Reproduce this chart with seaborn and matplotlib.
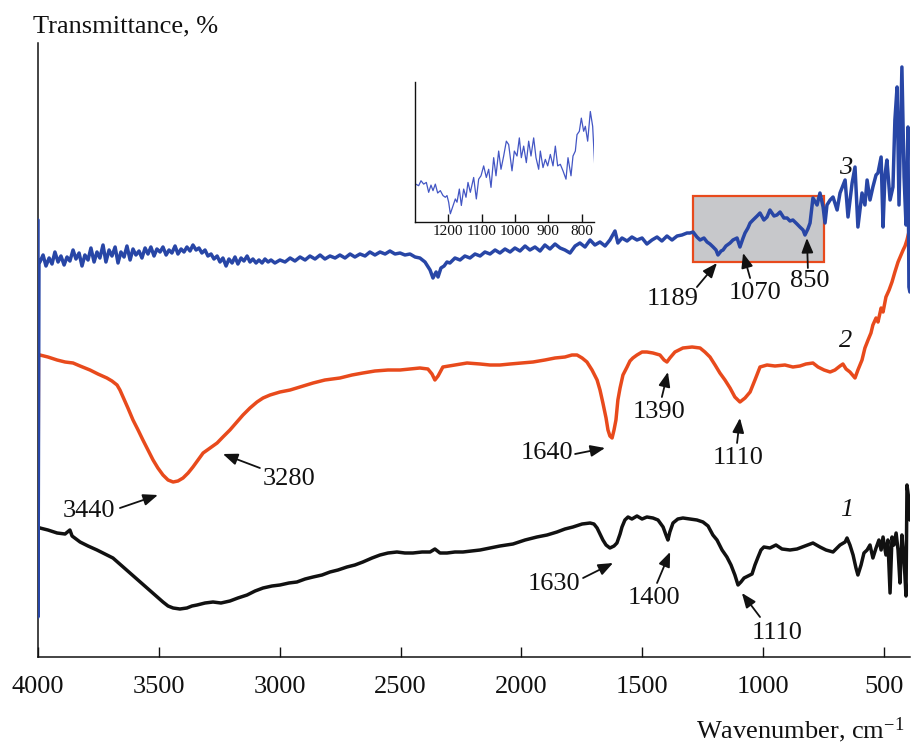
import matplotlib
matplotlib.use("Agg")
import matplotlib.pyplot as plt
import seaborn as sns
from matplotlib.patches import Rectangle

sns.set_style("white")
plt.rcParams['font.family'] = ['Liberation Serif', 'DejaVu Serif']
plt.rcParams['mathtext.fontset'] = 'custom'
plt.rcParams['mathtext.rm'] = 'Liberation Serif'
plt.rcParams['mathtext.it'] = 'Liberation Serif:italic'

# ---------------- data ----------------
# curve 3 (blue)
wn3 = [4000, 4000, 3996, 3992, 3979, 3967, 3954, 3942, 3930, 3917, 3905, 3892, 3880, 3868, 3855, 3843,
       3830, 3818, 3806, 3793, 3781, 3768, 3756, 3744, 3731, 3719, 3706, 3694, 3681, 3669, 3657, 3644,
       3632, 3619, 3607, 3595, 3582, 3570, 3557, 3545, 3533, 3520, 3508, 3495, 3483, 3470, 3458, 3446,
       3433, 3421, 3408, 3396, 3384, 3371, 3359, 3346, 3334, 3322, 3309, 3297, 3284, 3272, 3259, 3247,
       3235, 3222, 3210, 3197, 3185, 3173, 3160, 3148, 3135, 3123, 3111, 3098, 3086, 3073, 3061, 3048,
       3036, 3020, 2999, 2978, 2957, 2937, 2916, 2895, 2875, 2854, 2833, 2813, 2792, 2771, 2751, 2730,
       2709, 2689, 2668, 2647, 2627, 2606, 2585, 2564, 2544, 2523, 2502, 2482, 2461, 2440, 2420, 2399,
       2378, 2366, 2353, 2345, 2333, 2320, 2308, 2296, 2275, 2254, 2234, 2213, 2192, 2171, 2151, 2130,
       2109, 2089, 2068, 2047, 2027, 2006, 1985, 1965, 1944, 1923, 1903, 1882, 1861, 1840, 1820, 1799,
       1778, 1758, 1737, 1716, 1696, 1675, 1654, 1634, 1613, 1601, 1584, 1563, 1543, 1522, 1501, 1481,
       1460, 1439, 1419, 1398, 1377, 1356, 1336, 1315, 1303, 1290, 1274, 1261, 1245, 1232, 1220, 1207,
       1195, 1187, 1174, 1166, 1154, 1137, 1125, 1108, 1096, 1083, 1075, 1063, 1054, 1042, 1025, 1013,
       997, 984, 972, 955, 943, 930, 914, 901, 889, 877, 860, 848, 835, 827, 815, 806,
       794, 777, 765, 752, 744, 736, 723, 711, 694, 682, 661, 649, 632, 620, 608, 591,
       579, 570, 558, 546, 533, 525, 512, 504, 496, 488, 475, 463, 455, 446, 438, 426,
       417, 409, 401, 397, 393]
t3 = [437, 40, 394, 395, 402, 391, 399, 393, 405, 395, 401, 392, 400, 396, 407, 398,
      404, 391, 402, 397, 409, 395, 405, 399, 412, 395, 407, 401, 410, 394, 405, 400,
      411, 397, 408, 402, 406, 399, 409, 403, 410, 401, 408, 405, 410, 402, 407, 404,
      411, 403, 408, 405, 410, 406, 412, 407, 409, 404, 407, 401, 403, 398, 401, 395,
      399, 391, 398, 394, 400, 393, 399, 396, 401, 395, 398, 394, 397, 394, 398, 395,
      397, 394, 397, 395, 399, 396, 400, 397, 401, 398, 402, 398, 401, 399, 402, 399,
      403, 400, 403, 401, 405, 402, 405, 403, 406, 403, 404, 402, 403, 400, 399, 395,
      387, 379, 385, 380, 389, 391, 395, 394, 399, 397, 401, 399, 403, 401, 405, 403,
      407, 404, 408, 405, 409, 406, 411, 407, 410, 406, 412, 408, 413, 409, 407, 404,
      411, 414, 410, 417, 412, 415, 411, 417, 426, 414, 419, 416, 420, 417, 419, 413,
      417, 420, 416, 421, 417, 421, 422, 424, 424, 425, 420, 417, 419, 415, 413, 410,
      407, 402, 406, 407, 411, 414, 417, 419, 410, 419, 424, 429, 434, 437, 441, 444,
      437, 440, 447, 441, 442, 445, 439, 439, 436, 437, 433, 430, 427, 422, 428, 434,
      459, 452, 464, 450, 434, 452, 457, 460, 447, 464, 477, 440, 474, 490, 430, 464,
      452, 477, 457, 470, 482, 484, 500, 430, 482, 497, 457, 470, 537, 570, 452, 590,
      480, 432, 530, 370, 365]

# curve 2 (orange)
wn2 = [4000, 3998, 3992, 3959, 3921, 3888, 3855, 3826, 3785, 3752, 3715, 3694, 3673, 3661, 3648, 3628,
       3607, 3586, 3566, 3545, 3524, 3504, 3483, 3462, 3441, 3421, 3400, 3379, 3359, 3338, 3317, 3288,
       3259, 3235, 3206, 3177, 3152, 3123, 3094, 3069, 3040, 2999, 2957, 2916, 2862, 2813, 2751, 2701,
       2656, 2606, 2552, 2502, 2461, 2420, 2387, 2370, 2358, 2345, 2325, 2275, 2225, 2171, 2130, 2089,
       2047, 1998, 1952, 1903, 1861, 1820, 1791, 1770, 1749, 1729, 1708, 1687, 1675, 1663, 1650, 1642,
       1634, 1625, 1617, 1609, 1601, 1592, 1580, 1563, 1551, 1539, 1522, 1501, 1481, 1456, 1427, 1410,
       1398, 1386, 1365, 1332, 1294, 1261, 1241, 1220, 1199, 1179, 1158, 1137, 1117, 1096, 1075, 1054,
       1034, 1013, 984, 951, 910, 877, 848, 823, 794, 773, 748, 723, 703, 682, 670, 657,
       641, 620, 608, 591, 579, 566, 554, 546, 533, 525, 512, 504, 492, 479, 467, 455,
       442, 430, 421, 413, 405, 397]
t2 = [107, 302, 302, 300, 297, 295, 294, 291, 287, 283, 279, 276, 272, 267, 260, 249,
      237, 227, 217, 207, 197, 189, 182, 177, 175, 176, 179, 184, 190, 197, 204, 209,
      214, 220, 227, 235, 242, 249, 255, 259, 262, 265, 267, 270, 274, 277, 279, 282,
      284, 286, 287, 287, 288, 289, 288, 283, 277, 281, 290, 292, 294, 293, 292, 292,
      293, 294, 295, 297, 299, 300, 302, 302, 299, 295, 287, 277, 267, 254, 239, 227,
      221, 219, 227, 237, 257, 269, 282, 290, 296, 299, 302, 305, 305, 304, 302, 297,
      295, 299, 305, 309, 310, 309, 305, 300, 292, 284, 277, 269, 260, 255, 259, 265,
      277, 290, 292, 291, 292, 290, 291, 293, 294, 290, 287, 285, 287, 291, 293, 288,
      285, 279, 287, 297, 309, 317, 324, 332, 339, 335, 349, 345, 360, 367, 375, 385,
      395, 402, 407, 411, 417, 425]

# curve 1 (black)
wn1 = [4000, 3992, 3959, 3921, 3888, 3868, 3859, 3826, 3793, 3756, 3723, 3690, 3657, 3619, 3586, 3549,
       3516, 3483, 3462, 3441, 3413, 3384, 3363, 3342, 3309, 3276, 3243, 3206, 3173, 3135, 3102, 3069,
       3032, 2999, 2962, 2929, 2895, 2862, 2825, 2792, 2759, 2722, 2689, 2656, 2618, 2585, 2552, 2515,
       2482, 2449, 2411, 2378, 2358, 2337, 2308, 2275, 2242, 2205, 2171, 2130, 2089, 2035, 1985, 1936,
       1894, 1853, 1820, 1787, 1749, 1716, 1700, 1687, 1675, 1663, 1650, 1634, 1617, 1605, 1592, 1584,
       1572, 1559, 1543, 1522, 1501, 1481, 1456, 1435, 1414, 1402, 1394, 1386, 1373, 1353, 1332, 1303,
       1274, 1249, 1228, 1208, 1191, 1170, 1150, 1133, 1117, 1104, 1092, 1079, 1063, 1046, 1034, 1021,
       1009, 997, 972, 947, 922, 889, 860, 827, 794, 765, 740, 711, 682, 661, 653, 641,
       628, 616, 608, 595, 583, 570, 558, 546, 533, 521, 512, 504, 492, 484, 475, 467,
       459, 450, 442, 434, 426, 417, 409, 405, 397, 393]
t1 = [130, 129, 127, 124, 123, 127, 121, 115, 111, 107, 103, 99, 92, 84, 77, 69,
      62, 55, 51, 49, 48, 49, 51, 52, 54, 55, 54, 56, 59, 62, 66, 69,
      71, 72, 74, 75, 78, 80, 82, 85, 87, 90, 92, 95, 99, 102, 104, 105,
      104, 104, 105, 105, 108, 104, 104, 105, 105, 106, 107, 109, 111, 113, 117, 120,
      122, 125, 128, 130, 133, 134, 133, 129, 123, 117, 112, 109, 111, 114, 123, 130,
      137, 140, 138, 141, 138, 140, 139, 137, 130, 122, 117, 125, 134, 138, 139, 138,
      137, 135, 131, 122, 117, 107, 100, 92, 82, 72, 75, 79, 81, 83, 92, 100,
      107, 110, 109, 112, 108, 107, 108, 111, 114, 110, 107, 105, 112, 115, 119, 112,
      102, 89, 82, 92, 104, 107, 112, 99, 109, 117, 107, 120, 102, 117, 64, 120,
      112, 124, 107, 74, 122, 97, 61, 172, 157, 137]

# inset (zoom of curve 3)
wn_in = [1298, 1289, 1282, 1274, 1266, 1259, 1252, 1246, 1239, 1232, 1224, 1216, 1209, 1204, 1199, 1194,
         1189, 1184, 1179, 1174, 1167, 1161, 1154, 1147, 1141, 1134, 1124, 1116, 1109, 1102, 1094, 1086,
         1079, 1072, 1064, 1057, 1049, 1042, 1034, 1026, 1019, 1009, 1002, 994, 987, 981, 974, 966,
         959, 952, 944, 937, 929, 924, 916, 909, 902, 894, 886, 879, 872, 864, 856, 847,
         841, 832, 826, 819, 814, 807, 801, 794, 789, 782, 774, 767, 761]
t_in = [38.3, 36.7, 41.7, 38.3, 40.0, 30.0, 37.3, 31.7, 38.3, 29.3, 31.7, 26.7, 25.0, 26.7, 20.0, 8.3,
        13.3, 18.3, 23.3, 20.0, 33.3, 16.7, 33.3, 25.0, 40.0, 30.0, 45.0, 23.3, 43.3, 46.7, 56.7, 45.0,
        53.3, 35.0, 65.0, 46.7, 71.7, 53.3, 66.7, 81.7, 78.3, 51.7, 71.7, 66.7, 85.0, 65.0, 76.7, 60.0,
        81.7, 66.7, 85.0, 65.0, 53.3, 71.7, 55.0, 63.3, 56.7, 68.3, 56.7, 76.7, 56.7, 58.3, 51.7, 43.3,
        65.0, 46.7, 66.7, 71.7, 88.3, 91.7, 105.0, 91.7, 96.7, 81.7, 111.7, 96.7, 58.3]

x_ticks = [4000, 3500, 3000, 2500, 2000, 1500, 1000, 500]
inset_ticks = [1200, 1100, 1000, 900, 800]
zoom_range = (1290, 750)   # wavenumber range shown in the inset
zoom_level = (395, 461)    # transmittance range of the highlighted box

# peak annotations: label, text position, arrow tail, arrow tip (data coords)
peaks = [
    ("3440", (3789, 146), (3661, 149), (3504, 162)),
    ("3280", (2962, 178), (3082, 189), (3235, 203)),
    ("1640", (1894, 204), (1778, 203), (1654, 209)),
    ("1390", (1431, 245), (1419, 260), (1394, 285)),
    ("1110", (1104, 199), (1108, 214), (1096, 239)),
    ("1630", (1865, 73), (1745, 79), (1621, 94)),
    ("1400", (1452, 59), (1439, 74), (1385, 105)),
    ("1110", (943, 24), (1013, 40), (1088, 64)),
    ("1189", (1373, 358), (1274, 370), (1191, 394)),
    ("1070", (1034, 364), (1054, 379), (1083, 404)),
    ("850", (806, 376), (815, 389), (819, 419)),
]
curve_labels = [("1", (653, 147)), ("2", (657, 316)), ("3", (657, 489))]

BLACK = "#111111"
ORANGE = "#e84a1c"
BLUE = "#2846a6"
INSET_BLUE = "#4356c4"

# ---------------- figure ----------------
fig = plt.figure(figsize=(9.12, 7.43), dpi=100)
ax = fig.add_axes([38 / 912, 86 / 743, 872 / 912, 614 / 743])
ax.set_facecolor("white")

ax.add_patch(Rectangle((zoom_range[1], zoom_level[0]), zoom_range[0] - zoom_range[1],
                       zoom_level[1] - zoom_level[0], facecolor="#c7c8cb",
                       edgecolor=ORANGE, lw=1.6, zorder=1))

sns.lineplot(x=wn1, y=t1, sort=False, estimator=None, color=BLACK, lw=2.5, ax=ax, zorder=3)
sns.lineplot(x=wn2, y=t2, sort=False, estimator=None, color=ORANGE, lw=2.5, ax=ax, zorder=3)
sns.lineplot(x=wn3, y=t3, sort=False, estimator=None, color=BLUE, lw=2.5, ax=ax, zorder=3)

ax.set_xlim(4000, 392.5)
ax.set_ylim(0, 614)
ax.set_xticks(x_ticks)
ax.set_xticklabels([str(v) for v in x_ticks])
ax.set_yticks([])
ax.tick_params(axis="x", direction="in", length=7, width=1.0, pad=14, labelsize=19,
               colors="#111111", bottom=True)
for s in ["top", "right"]:
    ax.spines[s].set_visible(False)
for s in ["left", "bottom"]:
    ax.spines[s].set_color("#111111")
    ax.spines[s].set_linewidth(1.1)
ax.set_xlabel("")
ax.set_ylabel("")

for label, txt, tail, tip in peaks:
    ax.text(txt[0], txt[1], label, ha="center", va="center", fontsize=19, color="#111111", zorder=5)
    ax.annotate("", xy=tip, xytext=tail,
                arrowprops=dict(arrowstyle="-|>,head_length=0.55,head_width=0.22",
                                color="#111111", lw=1.3, shrinkA=0, shrinkB=0,
                                mutation_scale=16), zorder=5)

for label, pos in curve_labels:
    ax.text(pos[0], pos[1], label, ha="center", va="center", fontsize=19,
            style="italic", color="#111111", zorder=5)

fig.text(33 / 912, 1 - 26 / 743, "Transmittance, %", ha="left", va="center",
         fontsize=19, color="#111111")
fig.text(0.992, 1 - 730 / 743, "Wavenumber, cm$^{-1}$", ha="right", va="center",
         fontsize=19, color="#111111")

# inset
axin = fig.add_axes([415 / 912, (743 - 222) / 743, 179 / 912, 140 / 743])
axin.set_facecolor("none")
sns.lineplot(x=wn_in, y=t_in, sort=False, estimator=None, color=INSET_BLUE, lw=0.9, ax=axin)
axin.set_xlim(1300, 763)
axin.set_ylim(0, 141.5)
axin.set_xticks(inset_ticks)
axin.set_xticklabels([str(v) for v in inset_ticks])
axin.set_yticks([])
axin.tick_params(axis="x", direction="in", length=6, width=1.0, pad=2, labelsize=11,
                 colors="#111111", bottom=True)
for s in ["top", "right"]:
    axin.spines[s].set_visible(False)
for s in ["left", "bottom"]:
    axin.spines[s].set_color("#111111")
    axin.spines[s].set_linewidth(1.0)
axin.set_xlabel("")
axin.set_ylabel("")

fig.savefig("out.png", dpi=100)
